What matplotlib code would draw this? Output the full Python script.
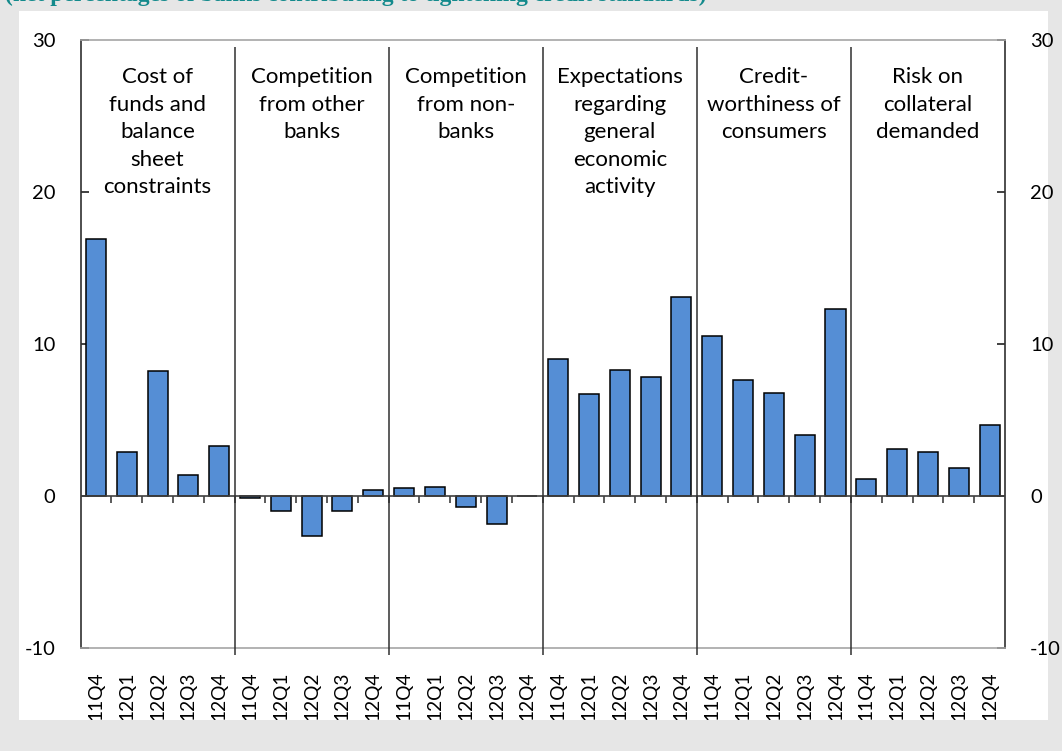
import numpy as np
import matplotlib
matplotlib.use("Agg")
import matplotlib.pyplot as plt
from matplotlib.patches import Rectangle

# ---------------- data ----------------
groups = ["Cost of\nfunds and\nbalance\nsheet\nconstraints",
          "Competition\nfrom other\nbanks",
          "Competition\nfrom non-\nbanks",
          "Expectations\nregarding\ngeneral\neconomic\nactivity",
          "Credit-\nworthiness of\nconsumers",
          "Risk on\ncollateral\ndemanded"]
quarters = ["11Q4", "12Q1", "12Q2", "12Q3", "12Q4"]

cost_funds = [16.9, 2.9, 8.2, 1.4, 3.3]
comp_banks = [-0.1, -1.0, -2.65, -1.0, 0.4]
comp_nonbanks = [0.5, 0.6, -0.75, -1.85, 0.0]
expectations = [9.0, 6.7, 8.3, 7.8, 13.1]
creditworth = [10.5, 7.6, 6.8, 4.0, 12.3]
collateral = [1.1, 3.1, 2.9, 1.85, 4.7]

series = [cost_funds, comp_banks, comp_nonbanks, expectations, creditworth, collateral]
values = np.concatenate(series)
labels = quarters * len(groups)
x = np.arange(len(values))
n = len(quarters)

font = "Lato"
plt.rcParams['font.family'] = [font, 'DejaVu Sans']
plt.rcParams['axes.unicode_minus'] = False

fig = plt.figure(figsize=(10.62, 7.51), dpi=100)
fig.patch.set_facecolor("#e6e6e6")

# white panel behind the chart
fig.add_artist(Rectangle((19 / 1062, 1 - 720 / 751), (1048 - 19) / 1062, (720 - 11) / 751,
                         transform=fig.transFigure, facecolor="white", edgecolor="none", zorder=-5))

ax = fig.add_axes([80.5 / 1062, 1 - 648 / 751, (1005 - 80.5) / 1062, (648 - 40) / 751])

ax.bar(x, values, width=0.65, color="#558ED5", edgecolor="black", linewidth=1.1, zorder=3)

ax.set_xlim(-0.5, len(values) - 0.5)
ax.set_ylim(-10, 30)
ax.set_yticks([-10, 0, 10, 20, 30])

# zero line + small ticks between bars
ax.axhline(0, color="#404040", linewidth=1.2, zorder=4)
bounds = np.arange(0.5, len(values) - 0.5)
ax.vlines(bounds, -0.45, 0, color="#404040", linewidth=1.2, zorder=4)

# group dividers
for b in np.arange(n - 0.5, len(values) - 1, n):
    ax.vlines(b, -10.46, 29.54, color="#303030", linewidth=1.1, clip_on=False, zorder=5)

# group titles
for i, g in enumerate(groups):
    ax.text(i * n + (n - 1) / 2, 28.2, g, ha="center", va="top", fontsize=16,
            linespacing=1.47, family=font, color="black", zorder=6)

ax.set_xticks(x)
ax.set_xticklabels(labels, rotation=90, fontsize=13.8, family=font, va="top")
ax.tick_params(axis="x", length=0, pad=17)

ax.yaxis.set_ticks_position("both")
ax.tick_params(axis="y", direction="in", length=6, width=1.2, color="#202020",
               labelsize=14.5, labelright=True, pad=18)
for lab in ax.get_yticklabels(which="both"):
    lab.set_family(font)

for s in ["left", "right"]:
    ax.spines[s].set_color("#303030")
    ax.spines[s].set_linewidth(1.2)
for s in ["top", "bottom"]:
    ax.spines[s].set_color("#a6a6a6")
    ax.spines[s].set_linewidth(1.2)

# title, mostly cut off at the top edge
fig.text(5 / 1062, 1 - 1 / 751, "(net percentages of banks contributing to tightening credit standards)",
         ha="left", va="baseline", fontsize=17, fontweight="bold", family="Liberation Serif",
         color="#138a8c")

# grey band at the bottom covering the label ends
fig.add_artist(Rectangle((0, 0), 1, 31 / 751, transform=fig.transFigure,
                         facecolor="#e6e6e6", edgecolor="none", zorder=20))

fig.savefig("out.png", dpi=100, facecolor=fig.get_facecolor())
